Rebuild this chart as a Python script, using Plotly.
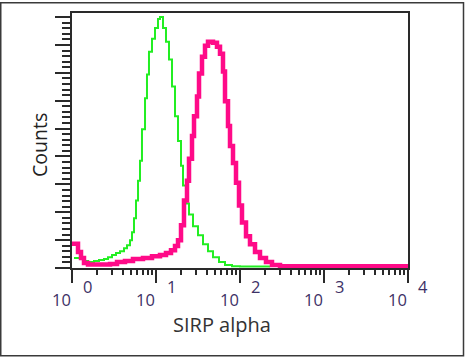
import plotly.graph_objects as go

# Isotype control (green) histogram: fluorescence intensity (bin start) and counts
green_intensity = [1.056, 1.245, 1.389, 1.551, 1.828, 2.096, 2.404, 2.683, 2.995, 3.341,
                   3.728, 4.16, 4.517, 4.904, 5.18, 5.47, 5.78, 6.11, 6.45, 6.81,
                   7.40, 7.81, 8.25, 8.96, 9.73, 10.56, 11.16, 12.12, 13.15, 14.28,
                   15.51, 16.84, 18.28, 19.85, 20.96, 22.76, 24.71, 27.57, 31.62, 36.27,
                   41.59, 47.71, 56.23, 66.28, 80.3, 100, 228]
green_counts = [7.1, 6.4, 5.0, 4.3, 5.0, 5.7, 6.4, 7.8, 9.3, 10.7,
                12.1, 14.2, 16.4, 19.9, 25.6, 35.6, 48.4, 62.6, 76.9, 99.6,
                121.7, 138.8, 155.2, 164.4, 172.2, 178.6, 180.1, 172.2, 162.3, 149.5,
                130.2, 108.9, 91.1, 73.3, 59.1, 46.3, 38.4, 29.9, 23.5, 17.1,
                12.1, 7.8, 4.3, 2.1, 1.2, 1.0, 1.0]

# SIRP alpha stained (magenta) histogram
pink_intensity = [1.0, 1.179, 1.28, 1.389, 1.551, 2.154, 2.835, 3.435, 4.275, 5.32,
                  7.00, 8.96, 11.16, 13.15, 15.09, 16.84, 18.28, 19.85, 21.54, 23.39,
                  24.71, 26.83, 28.35, 30.77, 32.51, 35.29, 38.31, 41.59, 47.71, 53.22,
                  57.79, 62.74, 66.28, 71.97, 76.03, 82.54, 89.62, 97.3, 105.6, 117.9,
                  131.5, 150.9, 173.0, 203.9, 240.4, 299.4, 393.9, 10000]
pink_counts = [17.4, 11.4, 7.1, 3.6, 2.5, 2.5, 2.8, 4.3, 5.0, 6.4,
               7.1, 8.5, 9.3, 10.7, 12.8, 15.7, 19.9, 30.6, 48.4, 62.6,
               78.3, 94.7, 108.9, 123.1, 139.5, 151.6, 159.4, 162.3, 161.6, 158.7,
               153.7, 140.9, 119.6, 101.8, 87.5, 75.4, 61.2, 44.8, 32.7, 22.8,
               17.1, 11.4, 7.1, 4.3, 2.1, 1.2, 1.2, 1.2]

decade_exponents = ["0", "1", "2", "3", "4"]
x_title = "SIRP alpha"
y_title = "Counts"

W, H = 465, 358
L, R, T, B = 72, 57, 11, 90
pw, ph = W - L - R, H - T - B

fig = go.Figure()
fig.add_trace(go.Scatter(x=green_intensity, y=green_counts, mode="lines",
                         line=dict(color="#22ee22", width=2, shape="hv"),
                         hoverinfo="skip"))
fig.add_trace(go.Scatter(x=pink_intensity, y=pink_counts, mode="lines",
                         line=dict(color="#ff0a88", width=4.5, shape="hv"),
                         hoverinfo="skip"))

axis_col = "#2a2a2a"
fig.update_xaxes(type="log", range=[0, 4], dtick=1, showticklabels=False,
                 ticks="outside", ticklen=13, tickwidth=2, tickcolor=axis_col,
                 showline=True, linecolor=axis_col, linewidth=2, mirror=True,
                 showgrid=False, zeroline=False,
                 minor=dict(ticks="outside", ticklen=5, tickwidth=1.5,
                            tickcolor=axis_col, dtick="D1", showgrid=False))
fig.update_yaxes(range=[0, ph / 1.405], dtick=20, showticklabels=False,
                 ticks="outside", ticklen=15, tickwidth=2, tickcolor=axis_col,
                 showline=True, linecolor=axis_col, linewidth=2, mirror=True,
                 showgrid=False, zeroline=False,
                 minor=dict(ticks="outside", ticklen=8, tickwidth=1.5,
                            tickcolor=axis_col, dtick=4, showgrid=False))

lab_col = "#3d3166"
font = "Open Sans, Noto Sans, sans-serif"
for i, e in enumerate(decade_exponents):
    fig.add_annotation(x=i, y=(268 - 300) / ph, xref="x", yref="paper",
                       xanchor="center", yanchor="middle",
                       text="10", showarrow=False, xshift=-11,
                       font=dict(family=font, size=16.5, color=lab_col))
    fig.add_annotation(x=i, y=(268 - 287) / ph, xref="x", yref="paper",
                       xanchor="center", yanchor="middle",
                       text=e, showarrow=False, xshift=15,
                       font=dict(family=font, size=16.5, color=lab_col))

fig.add_annotation(x=(222 - L) / pw, y=(268 - 325) / ph, xref="paper", yref="paper",
                   xanchor="center", yanchor="middle",
                   text=x_title, showarrow=False,
                   font=dict(family=font, size=20, color="#333333"))
fig.add_annotation(x=(40 - L) / pw, y=(268 - 144) / ph, xref="paper", yref="paper",
                   xanchor="center", yanchor="middle",
                   text=y_title, showarrow=False, textangle=-90,
                   font=dict(family=font, size=19.5, color="#222222"))

# outer image border
fig.add_shape(type="rect", xref="paper", yref="paper",
              x0=(0.75 - L) / pw, x1=(463.5 - L) / pw,
              y0=(268 - 356.5) / ph, y1=(268 - 0.75) / ph,
              line=dict(color="#3a3a3a", width=1.5))

fig.update_layout(width=W, height=H, margin=dict(l=L, r=R, t=T, b=B),
                  paper_bgcolor="white", plot_bgcolor="white", showlegend=False)

fig.write_html("out.html", config={"displayModeBar": False},
               post_script="document.body.style.margin='0';document.body.style.padding='0';"
                           "document.documentElement.style.overflow='hidden';")
